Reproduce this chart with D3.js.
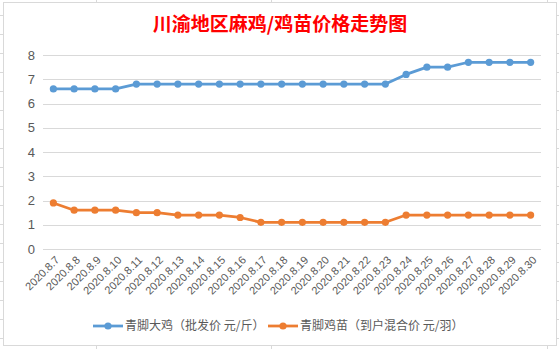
<!DOCTYPE html>
<html><head><meta charset="utf-8">
<script src="https://cdn.jsdelivr.net/npm/d3@7/dist/d3.min.js"></script>
<style>
html,body{margin:0;padding:0;background:#fff;}
svg{display:block;}
</style></head>
<body>
<svg id="chart" width="559" height="349"></svg>
<script>
const title = "川渝地区麻鸡/鸡苗价格走势图";
const categories = ["2020.8.7","2020.8.8","2020.8.9","2020.8.10","2020.8.11","2020.8.12","2020.8.13","2020.8.14","2020.8.15","2020.8.16","2020.8.17","2020.8.18","2020.8.19","2020.8.20","2020.8.21","2020.8.22","2020.8.23","2020.8.24","2020.8.25","2020.8.26","2020.8.27","2020.8.28","2020.8.29","2020.8.30"];
const seriesNames = ["青脚大鸡（批发价 元/斤）","青脚鸡苗（到户混合价 元/羽）"];
const bigChicken = [6.6,6.6,6.6,6.6,6.8,6.8,6.8,6.8,6.8,6.8,6.8,6.8,6.8,6.8,6.8,6.8,6.8,7.2,7.5,7.5,7.7,7.7,7.7,7.7];
const chicks = [1.9,1.6,1.6,1.6,1.5,1.5,1.4,1.4,1.4,1.3,1.1,1.1,1.1,1.1,1.1,1.1,1.1,1.4,1.4,1.4,1.4,1.4,1.4,1.4];
const yTicks = [0,1,2,3,4,5,6,7,8];
const colors = ["#5B9BD5","#ED7D31"];

const svg = d3.select("#chart");
const plot = {left:43, right:541, top:55, bottom:249};

// background cell lines (spreadsheet)
const deco = svg.append("g").attr("stroke","#d9d9d9").attr("stroke-width",1);
[15,34,53,72,91,110,129,148,167,186,205,224,243,262,281,300,319,338].forEach(y=>{
  deco.append("line").attr("x1",0).attr("x2",3).attr("y1",y+0.5).attr("y2",y+0.5);
  deco.append("line").attr("x1",556).attr("x2",559).attr("y1",y+0.5).attr("y2",y+0.5);
});
[96,271,547].forEach(x=>{
  deco.append("line").attr("x1",x+0.5).attr("x2",x+0.5).attr("y1",0).attr("y2",2);
  deco.append("line").attr("x1",x+0.5).attr("x2",x+0.5).attr("y1",346).attr("y2",349);
});
// chart border
svg.append("rect").attr("x",3.5).attr("y",2.5).attr("width",553).attr("height",343)
  .attr("fill","#fff").attr("stroke","#d9d9d9").attr("stroke-width",1);

const x = d3.scaleBand().domain(categories).range([plot.left, plot.right]);
const y = d3.scaleLinear().domain([0,8]).range([plot.bottom, plot.top]);

// gridlines
svg.append("g").selectAll("line").data(yTicks).join("line")
  .attr("x1",plot.left).attr("x2",plot.right)
  .attr("y1",d=>Math.round(y(d))+0.5).attr("y2",d=>Math.round(y(d))+0.5)
  .attr("stroke","#d9d9d9").attr("stroke-width",1);

// y axis
const yAxis = d3.axisLeft(y).tickValues(yTicks).tickSize(0).tickPadding(0);
const gy = svg.append("g").attr("transform",`translate(35,0)`).call(yAxis);
gy.select(".domain").remove();
gy.selectAll("text").attr("fill","#595959").style("font-family","'Liberation Sans',Arial,sans-serif").style("font-size","13px");

// x axis labels
const xAxis = d3.axisBottom(x).tickSize(0).tickPadding(0);
const gx = svg.append("g").attr("transform",`translate(0,${plot.bottom})`).call(xAxis);
gx.select(".domain").remove();
gx.selectAll("text")
  .attr("fill","#595959")
  .style("font-family","'Liberation Sans',Arial,sans-serif").style("font-size","11px")
  .attr("text-anchor","end")
  .attr("dy","0.35em").attr("y",0)
  .attr("transform","translate(4,9) rotate(-45)");

// series
const cx = d=>x(d)+x.bandwidth()/2;
[bigChicken, chicks].forEach((vals,i)=>{
  const data = categories.map((c,j)=>({c, v:vals[j]}));
  svg.append("path").datum(data)
    .attr("fill","none").attr("stroke",colors[i]).attr("stroke-width",2.75)
    .attr("stroke-linejoin","round")
    .attr("d", d3.line().x(d=>cx(d.c)).y(d=>y(d.v)));
  svg.append("g").selectAll("circle").data(data).join("circle")
    .attr("cx",d=>cx(d.c)).attr("cy",d=>y(d.v)).attr("r",3.6)
    .attr("fill",colors[i]);
});

// title
svg.append("text").attr("x",280).attr("y",31).attr("text-anchor","middle")
  .attr("fill","#FF0000").style("font-family","'Noto Sans CJK SC',sans-serif")
  .style("font-weight","bold").style("font-size","19px").text(title);

// legend
const legendPos = [{lx:93, tx:125},{lx:268, tx:300}];
const ly = 326;
seriesNames.forEach((name,i)=>{
  const p = legendPos[i];
  svg.append("line").attr("x1",p.lx).attr("x2",p.lx+30).attr("y1",ly).attr("y2",ly)
    .attr("stroke",colors[i]).attr("stroke-width",2.75);
  svg.append("circle").attr("cx",p.lx+15).attr("cy",ly).attr("r",3.6).attr("fill",colors[i]);
  svg.append("text").attr("x",p.tx).attr("y",ly).attr("dy","0.36em")
    .attr("fill","#595959").style("font-family","'Noto Sans CJK SC',sans-serif")
    .style("font-size","12px").text(name);
});
</script>
</body></html>
